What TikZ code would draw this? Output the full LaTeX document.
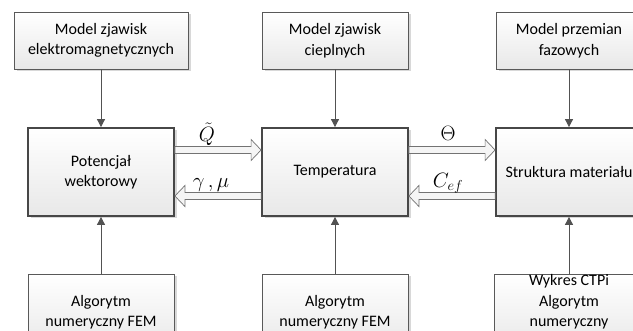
\documentclass[tikz,border=0pt]{standalone}
\usepackage{fontspec}
\setmainfont{Carlito}
\usetikzlibrary{shadows,arrows.meta,calc}
\newcommand\rblk[2]{\draw[blk] ($(#1)+(0,-3.5)$) -- ($(#2)+(-10,-3.5)$) -- ($(#2)+(-10,-10.5)$) -- (#2) -- ($(#2)+(-10,10.5)$) -- ($(#2)+(-10,3.5)$) -- ($(#1)+(0,3.5)$) -- cycle;}
\newcommand\lblk[2]{\draw[blk] ($(#1)+(0,-3.5)$) -- ($(#2)+(10,-3.5)$) -- ($(#2)+(10,-10.5)$) -- (#2) -- ($(#2)+(10,10.5)$) -- ($(#2)+(10,3.5)$) -- ($(#1)+(0,3.5)$) -- cycle;}
\begin{document}
\begin{tikzpicture}[x=1pt,y=-1pt,
  box/.style={draw=black!65, line width=0.9pt, top color=white, bottom color=black!9,
    align=center, inner sep=0pt, minimum width=146pt, font=\fontsize{16}{20.5}\selectfont,
    drop shadow={shadow xshift=2.5pt, shadow yshift=-2.5pt, fill=black!30, opacity=0.5}},
  midbox/.style={box, line width=1.8pt, draw=black!72, minimum height=88pt},
  smallbox/.style={box, minimum height=57pt},
  lowbox/.style={box, minimum height=76pt},
  conn/.style={draw=black!68, line width=0.8pt, -{Triangle[length=8pt,width=8pt]}},
  blk/.style={draw=black!55, line width=0.7pt, fill=black!4},
  lbl/.style={inner sep=0pt, font=\fontsize{20}{22}\selectfont},
  plain/.style={inner sep=0pt, align=center, font=\fontsize{16}{20.5}\selectfont}
]
\useasboundingbox (0,0) rectangle (633,331);
% top boxes
\node[smallbox, minimum width=174pt] (t1) at (101,40.5) {Model zjawisk\\elektromagnetycznych};
\node[smallbox] (t2) at (335,40.5) {Model zjawisk\\cieplnych};
\node[smallbox] (t3) at (569,40.5) {Model przemian\\fazowych};
% middle boxes
\node[midbox] (m1) at (101,172) {Potencjał\\wektorowy};
\node[midbox] (m2) at (335,172) {Temperatura};
\node[midbox] (m3) at (569,172) {Struktura materiału};
% bottom boxes
\node[lowbox] (b1) at (101,312) {Algorytm\\numeryczny FEM};
\node[lowbox] (b2) at (335,312) {Algorytm\\numeryczny FEM};
\node[lowbox, minimum width=150pt] (b3) at (569,312) {};
\node[plain] (b3t) at (569,302) {Wykres CTPi\\Algorytm\\numeryczny};
% vertical connectors
\draw[conn] (t1.south) -- (m1.north);
\draw[conn] (t2.south) -- (m2.north);
\draw[conn] (t3.south) -- (m3.north);
\draw[conn] (b1.north) -- (m1.south);
\draw[conn] (b2.north) -- (m2.south);
\draw[conn] (b3.north) -- (m3.south);
% block arrows
\coordinate (u1) at ($(m1.east)+(0,-22)$);
\coordinate (u2) at ($(m2.west)+(0,-22)$);
\coordinate (l1) at ($(m1.east)+(0,24)$);
\coordinate (l2) at ($(m2.west)+(0,24)$);
\coordinate (u3) at ($(m2.east)+(0,-22)$);
\coordinate (u4) at ($(m3.west)+(0,-22)$);
\coordinate (l3) at ($(m2.east)+(0,24)$);
\coordinate (l4) at ($(m3.west)+(0,24)$);
\rblk{u1}{u2}
\lblk{l2}{l1}
\rblk{u3}{u4}
\lblk{l4}{l3}
% labels
\node[lbl] (lq) at (207,134) {$\tilde{Q}$};
\node[lbl] (lg) at (211,185) {$\gamma\,,\mu$};
\node[lbl] (lt) at (448,133) {$\Theta$};
\node[lbl] (lc) at (448,183) {$C_{ef}$};
\end{tikzpicture}
\end{document}
